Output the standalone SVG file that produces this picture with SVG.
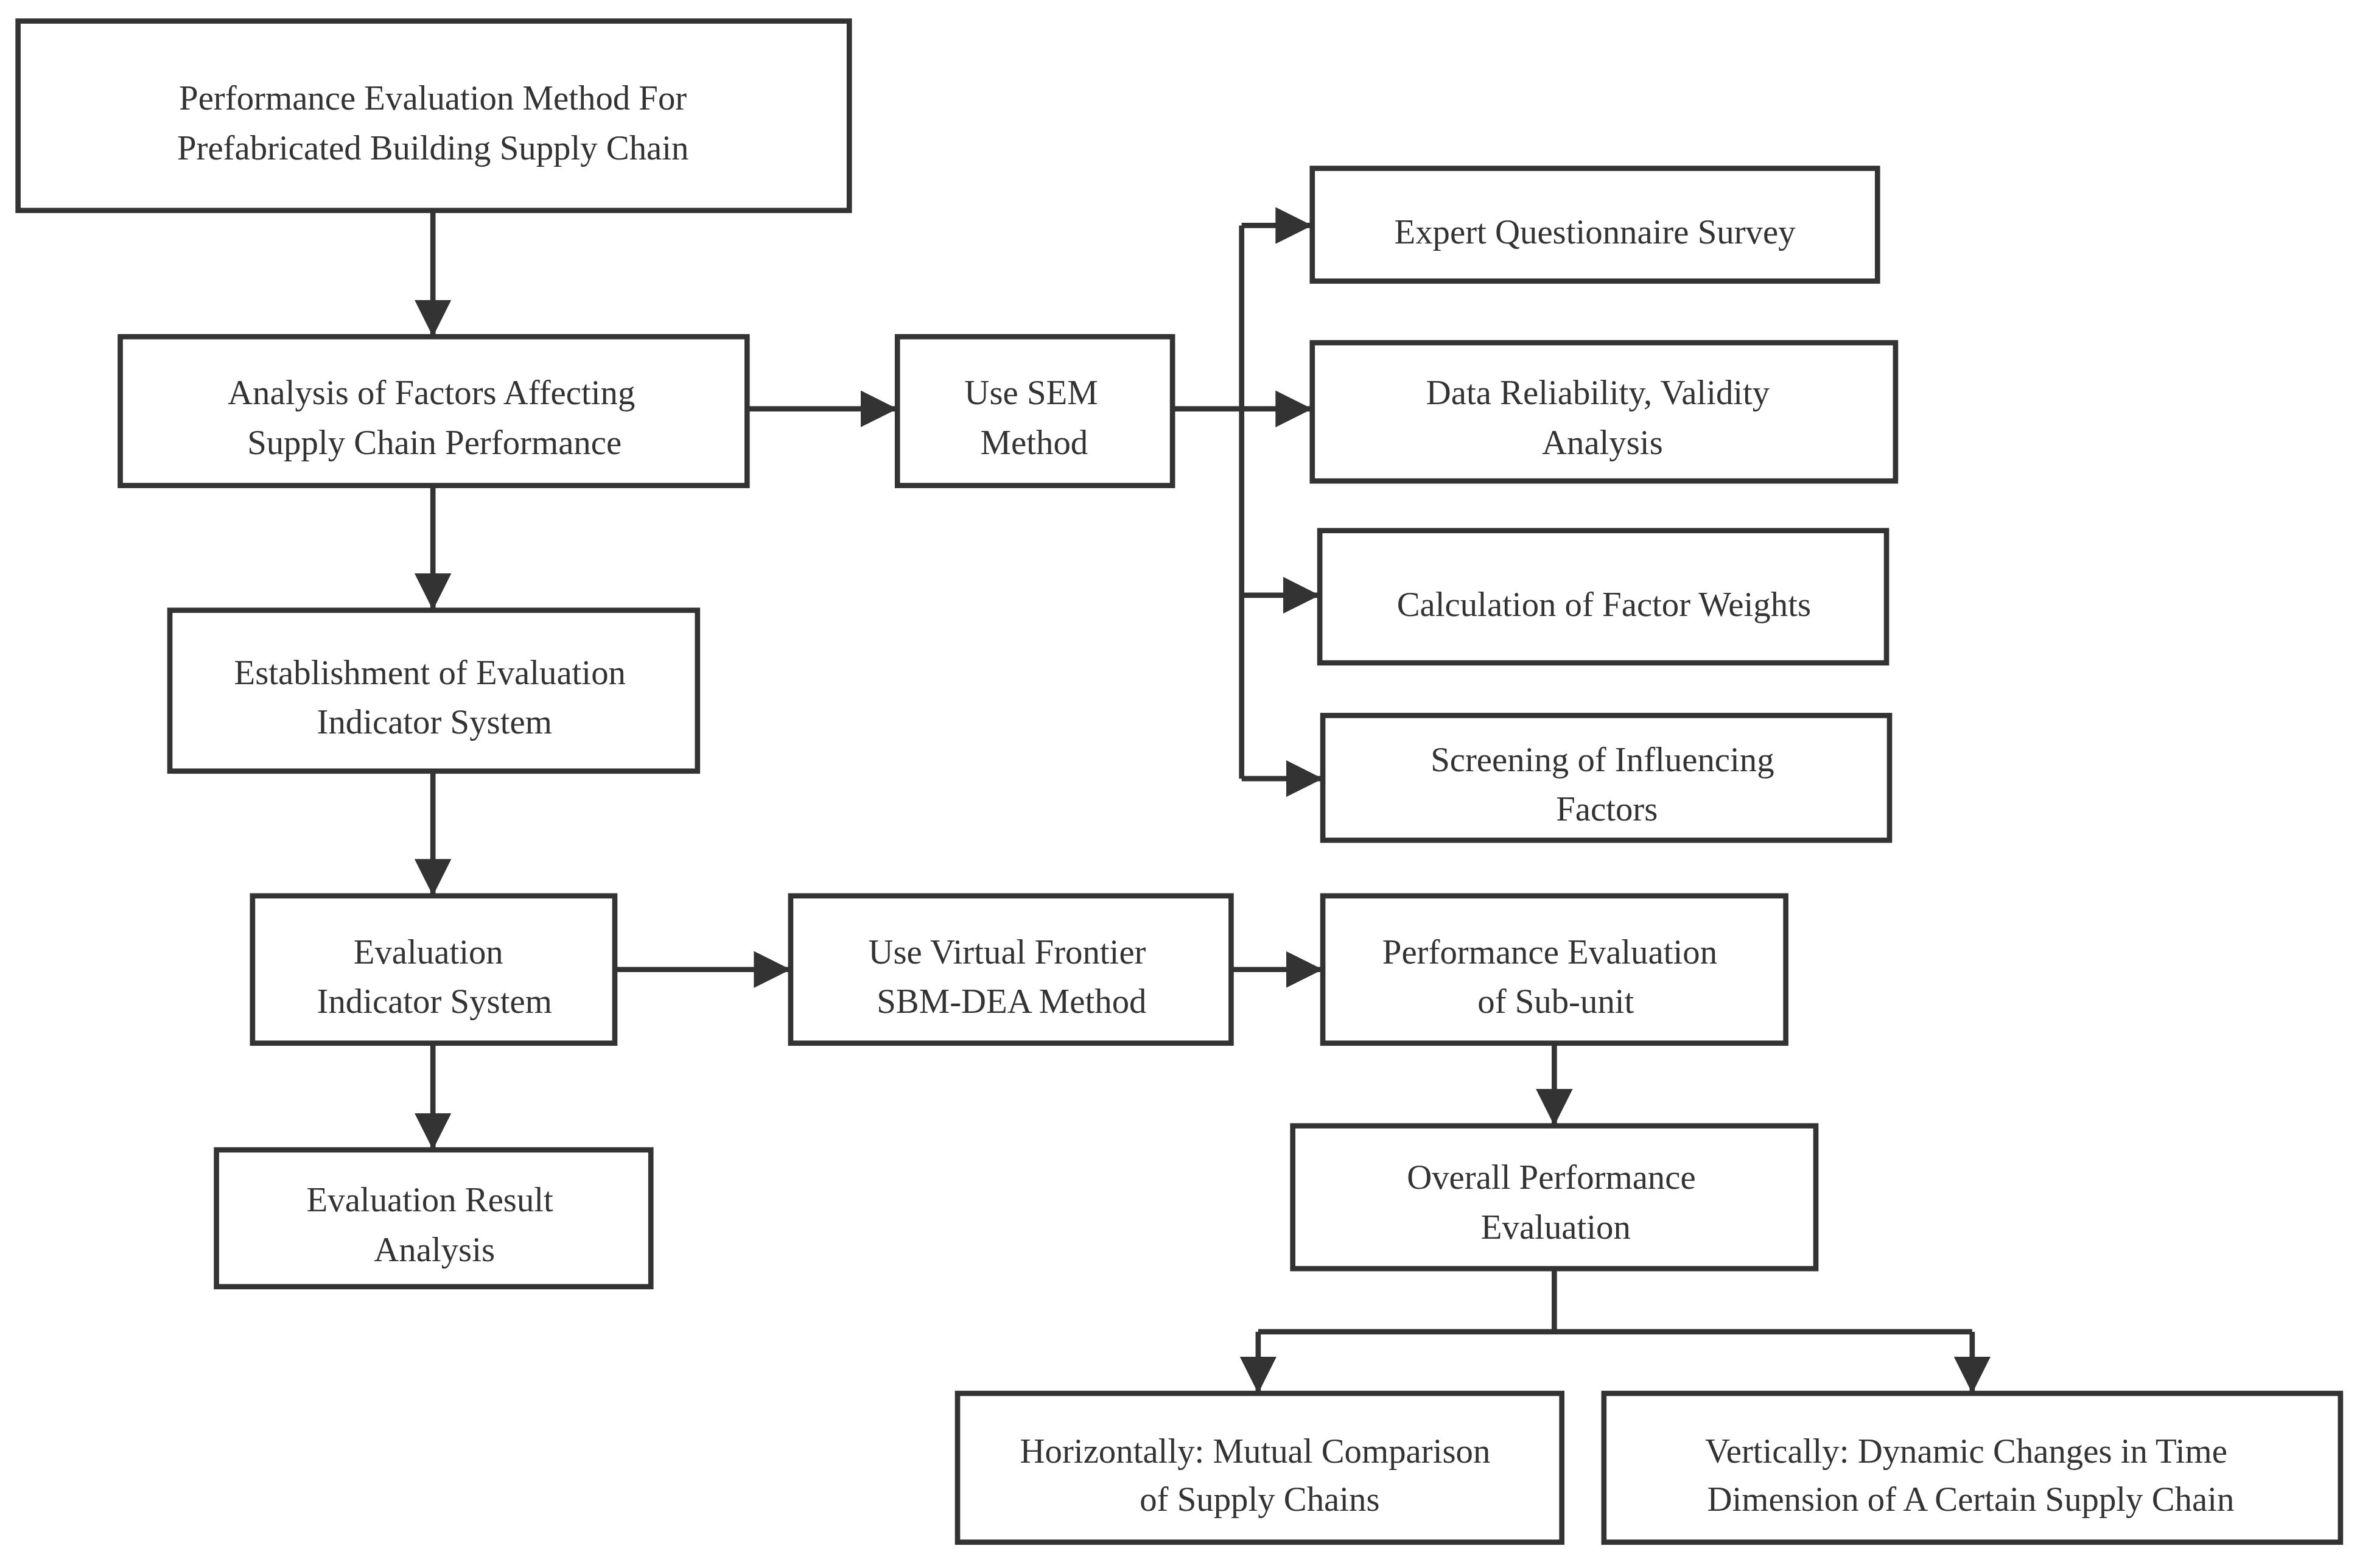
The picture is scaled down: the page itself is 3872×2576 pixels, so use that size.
<svg xmlns="http://www.w3.org/2000/svg" width="3872" height="2576" viewBox="0 0 3872 2576">
<style>
rect{fill:#fff;stroke:#333;stroke-width:3.5}
text{font-family:"Liberation Serif","Times New Roman",serif;font-size:23px;fill:#333;text-anchor:middle}
.c{fill:none;stroke:#333;stroke-width:3.5}
</style>
<defs><marker id="a" markerWidth="8" markerHeight="8" refX="7" refY="4" orient="auto" markerUnits="strokeWidth"><path d="M0,0.5 L7,4 L0,7.5 z" fill="#333"/></marker></defs>
<rect width="3872" height="2576" style="stroke:none"/>
<g transform="scale(2.4694)">
<g id="n1"><rect x="12" y="14" width="553" height="126"/><text x="288" y="73">Performance Evaluation Method For</text><text x="288" y="106">Prefabricated Building Supply Chain</text></g>
<g id="n2"><rect x="80" y="224" width="417" height="99"/><text x="287" y="269">Analysis of Factors Affecting</text><text x="289" y="302">Supply Chain Performance</text></g>
<g id="n3"><rect x="597" y="224" width="183" height="99"/><text x="686" y="269">Use SEM</text><text x="688" y="302">Method</text></g>
<g id="n4"><rect x="873" y="112" width="376" height="75"/><text x="1061" y="162">Expert Questionnaire Survey</text></g>
<g id="n5"><rect x="873" y="228" width="388" height="92"/><text x="1063" y="269">Data Reliability, Validity</text><text x="1066" y="302">Analysis</text></g>
<g id="n6"><rect x="878" y="353" width="377" height="88"/><text x="1067" y="410">Calculation of Factor Weights</text></g>
<g id="n7"><rect x="880" y="476" width="377" height="83"/><text x="1066" y="513">Screening of Influencing</text><text x="1069" y="546">Factors</text></g>
<g id="n8"><rect x="113" y="406" width="351" height="107"/><text x="286" y="455">Establishment of Evaluation</text><text x="289" y="488">Indicator System</text></g>
<g id="n9"><rect x="168" y="596" width="241" height="98"/><text x="285" y="641">Evaluation</text><text x="289" y="674">Indicator System</text></g>
<g id="n10"><rect x="526" y="596" width="293" height="98"/><text x="670" y="641">Use Virtual Frontier</text><text x="673" y="674">SBM-DEA Method</text></g>
<g id="n11"><rect x="880" y="596" width="308" height="98"/><text x="1031" y="641">Performance Evaluation</text><text x="1035" y="674">of Sub-unit</text></g>
<g id="n12"><rect x="144" y="765" width="289" height="91"/><text x="286" y="806">Evaluation Result</text><text x="289" y="839">Analysis</text></g>
<g id="n13"><rect x="860" y="749" width="348" height="95"/><text x="1032" y="791">Overall Performance</text><text x="1035" y="824">Evaluation</text></g>
<g id="n14"><rect x="637" y="927" width="402" height="99"/><text x="835" y="973">Horizontally: Mutual Comparison</text><text x="838" y="1005">of Supply Chains</text></g>
<g id="n15"><rect x="1067" y="927" width="490" height="99"/><text x="1308" y="973">Vertically: Dynamic Changes in Time</text><text x="1311" y="1005">Dimension of A Certain Supply Chain</text></g>
<g id="connectors">
<path class="c" marker-end="url(#a)" d="M288,140 V224"/>
<path class="c" marker-end="url(#a)" d="M497,272 H597"/>
<path class="c" d="M780,272 H826 M826,150 V518"/>
<path class="c" marker-end="url(#a)" d="M826,150 H873"/>
<path class="c" marker-end="url(#a)" d="M826,272 H873"/>
<path class="c" marker-end="url(#a)" d="M826,396 H878"/>
<path class="c" marker-end="url(#a)" d="M826,518 H880"/>
<path class="c" marker-end="url(#a)" d="M288,323 V406"/>
<path class="c" marker-end="url(#a)" d="M288,513 V596"/>
<path class="c" marker-end="url(#a)" d="M409,645 H526"/>
<path class="c" marker-end="url(#a)" d="M819,645 H880"/>
<path class="c" marker-end="url(#a)" d="M288,694 V765"/>
<path class="c" marker-end="url(#a)" d="M1034,694 V749"/>
<path class="c" d="M1034,844 V886 M837,886 H1312"/>
<path class="c" marker-end="url(#a)" d="M837,886 V927"/>
<path class="c" marker-end="url(#a)" d="M1312,886 V927"/>
</g>
</g>
</svg>
